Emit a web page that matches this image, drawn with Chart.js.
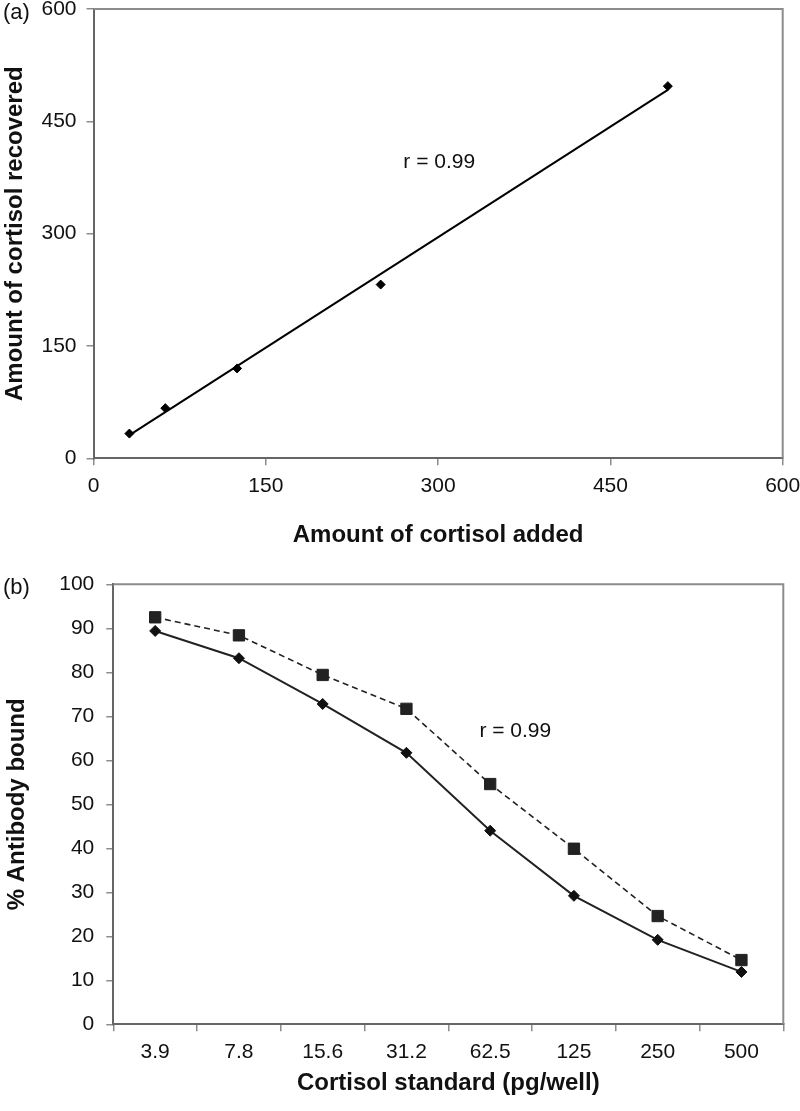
<!DOCTYPE html>
<html>
<head>
<meta charset="utf-8">
<script src="https://cdn.jsdelivr.net/npm/chart.js@4/dist/chart.umd.min.js"></script>
<style>
  body { margin: 0; background: #fff; }
  canvas { position: absolute; left: 0; }
  #chartA { top: 0; }
  #chartB { top: 560px; }
</style>
</head>
<body>
<canvas id="chartA" width="800" height="560"></canvas>
<canvas id="chartB" width="800" height="551"></canvas>
<script>
// (a) recovery
const addedX = [31.25, 62.5, 125, 250, 500];
const recoveredY = [33, 67, 120, 232, 497];
const fitX = [31.25, 500];
const fitY = [31, 492];
const ticksA = [0, 150, 300, 450, 600];

// (b) standard curve
const standards = ['3.9', '7.8', '15.6', '31.2', '62.5', '125', '250', '500'];
const boundSolid = [89.4, 83.2, 72.8, 61.7, 44.0, 29.2, 19.2, 11.9];
const boundDashed = [92.5, 88.4, 79.4, 71.7, 54.6, 39.9, 24.6, 14.6];
const ticksB = [0, 10, 20, 30, 40, 50, 60, 70, 80, 90, 100];

const FONT = '"Liberation Sans", Arial, sans-serif';
Chart.defaults.font.family = FONT;
Chart.defaults.color = '#111';

// frame on top/right, the r label and the panel letter
const overlay = {
  id: 'overlay',
  afterDraw(chart, args, opts) {
    const ctx = chart.ctx, a = chart.chartArea;
    ctx.save();
    ctx.strokeStyle = '#8c8c8c';
    ctx.lineWidth = 2;
    ctx.beginPath();
    ctx.moveTo(a.left, a.top);
    ctx.lineTo(a.right, a.top);
    ctx.lineTo(a.right, a.bottom);
    ctx.stroke();
    ctx.fillStyle = '#111';
    ctx.font = '21px ' + FONT;
    ctx.textAlign = 'center';
    ctx.textBaseline = 'middle';
    ctx.fillText(opts.note, chart.scales.x.getPixelForValue(opts.noteAt[0]), chart.scales.y.getPixelForValue(opts.noteAt[1]));
    ctx.font = '22px ' + FONT;
    ctx.textAlign = 'left';
    ctx.fillText(opts.panel, opts.panelAt[0], opts.panelAt[1]);
    ctx.restore();
  }
};

function axisGrid() {
  return { display: true, drawOnChartArea: false, drawTicks: true, tickLength: 7, color: '#8c8c8c', lineWidth: 1.5 };
}
function axisBorder() {
  return { display: true, color: '#666', width: 2 };
}
function fixWidth(w) {
  return s => { s.width = w; s.paddingTop = 0; s.paddingBottom = 0; };
}
function fixHeight(h) {
  return s => { s.height = h; s.paddingLeft = 0; s.paddingRight = 0; };
}

new Chart(document.getElementById('chartA'), {
  type: 'scatter',
  data: {
    datasets: [{
      data: addedX.map((x, i) => ({ x: x, y: recoveredY[i] })),
      showLine: false,
      pointStyle: 'rectRot',
      pointRadius: 4.5,
      backgroundColor: '#000',
      borderColor: '#000',
      borderWidth: 1
    }, {
      data: fitX.map((x, i) => ({ x: x, y: fitY[i] })),
      showLine: true,
      pointRadius: 0,
      borderColor: '#000',
      borderWidth: 2
    }]
  },
  options: {
    responsive: false,
    animation: false,
    layout: { padding: { left: 0, right: 17.3, top: 9, bottom: 0 } },
    plugins: {
      legend: { display: false },
      tooltip: { enabled: false },
      overlay: { note: 'r = 0.99', noteAt: [301, 396], panel: '(a)', panelAt: [3, 13] }
    },
    scales: {
      x: {
        type: 'linear', min: 0, max: 600,
        afterBuildTicks: s => { s.ticks = ticksA.map(v => ({ value: v })); },
        afterFit: fixHeight(101.7),
        grid: axisGrid(), border: axisBorder(),
        ticks: { font: { size: 21 }, padding: 8, maxRotation: 0 },
        title: { display: true, text: 'Amount of cortisol added', font: { size: 24, weight: 'bold' }, padding: { top: 0, bottom: 10 } }
      },
      y: {
        type: 'linear', min: 0, max: 600,
        afterBuildTicks: s => { s.ticks = ticksA.map(v => ({ value: v })); },
        afterFit: fixWidth(93.5),
        grid: axisGrid(), border: axisBorder(),
        ticks: { font: { size: 21 }, padding: 10 },
        title: { display: true, text: 'Amount of cortisol recovered', font: { size: 24, weight: 'bold' }, padding: { top: 1, bottom: 0 } }
      }
    }
  },
  plugins: [overlay]
});

new Chart(document.getElementById('chartB'), {
  type: 'line',
  data: {
    labels: standards,
    datasets: [{
      data: boundDashed,
      borderColor: '#222',
      borderWidth: 1.6,
      borderDash: [6, 4],
      pointStyle: 'rect',
      pointRadius: 8,
      pointBackgroundColor: '#222',
      pointBorderColor: '#222',
      pointBorderWidth: 1,
      tension: 0
    }, {
      data: boundSolid,
      borderColor: '#222',
      borderWidth: 2,
      pointStyle: 'rectRot',
      pointRadius: 5.5,
      pointBackgroundColor: '#111',
      pointBorderColor: '#111',
      pointBorderWidth: 1,
      tension: 0
    }]
  },
  options: {
    responsive: false,
    animation: false,
    layout: { padding: { left: 0, right: 16.7, top: 24.3, bottom: 0 } },
    plugins: {
      legend: { display: false },
      tooltip: { enabled: false },
      overlay: { note: 'r = 0.99', noteAt: [4.3, 66.5], panel: '(b)', panelAt: [3, 27.5] }
    },
    scales: {
      x: {
        type: 'category', offset: true,
        afterFit: fixHeight(86.7),
        grid: Object.assign(axisGrid(), { offset: true }), border: axisBorder(),
        ticks: { font: { size: 21 }, padding: 8, maxRotation: 0, autoSkip: false },
        title: { display: true, text: 'Cortisol standard (pg/well)', font: { size: 24, weight: 'bold' }, padding: { top: 0, bottom: 13 } }
      },
      y: {
        type: 'linear', min: 0, max: 100,
        afterBuildTicks: s => { s.ticks = ticksB.map(v => ({ value: v })); },
        afterFit: fixWidth(113.3),
        grid: axisGrid(), border: axisBorder(),
        ticks: { font: { size: 21 }, padding: 12 },
        title: { display: true, text: '% Antibody bound', font: { size: 24, weight: 'bold' }, padding: { top: 3, bottom: 0 } }
      }
    }
  },
  plugins: [overlay]
});
</script>
</body>
</html>
